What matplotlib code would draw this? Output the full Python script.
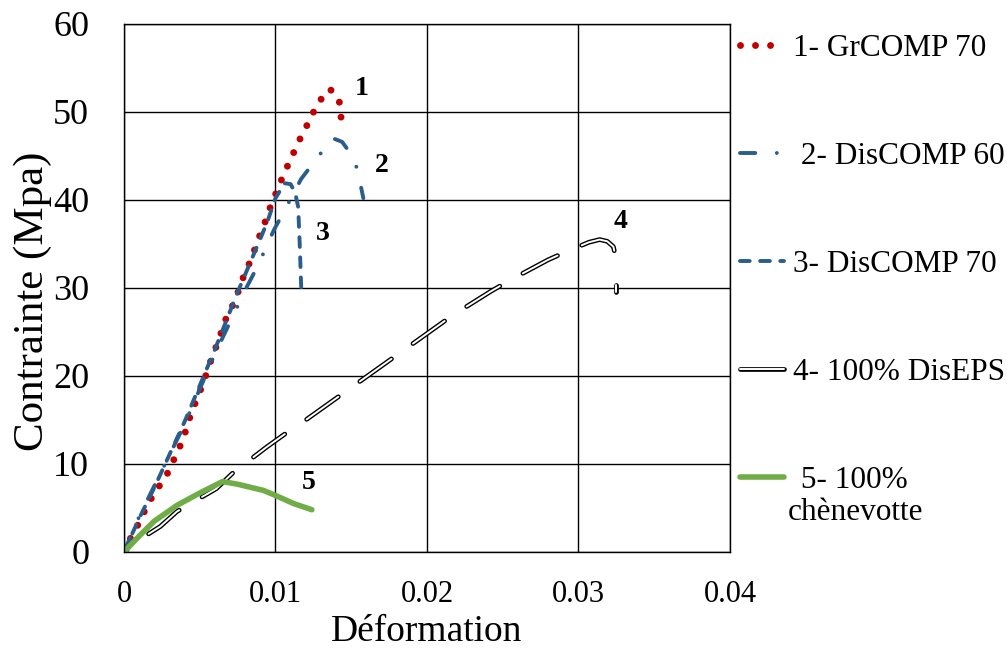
import matplotlib
matplotlib.use("Agg")
import matplotlib.pyplot as plt
from matplotlib.lines import Line2D
from matplotlib.legend_handler import HandlerTuple

plt.rcParams["font.family"] = ["Liberation Serif", "DejaVu Serif"]
plt.rcParams["lines.scale_dashes"] = False

# 1- GrCOMP 70
x1 = [0, 0.0005, 0.00106, 0.00145, 0.00194, 0.00253, 0.00304, 0.00343, 0.00387,
      0.00418, 0.00447, 0.00486, 0.00524, 0.00557, 0.0059, 0.00629, 0.00656, 0.0070,
      0.0074, 0.0077, 0.0081, 0.0085, 0.0088, 0.0092, 0.0095, 0.0099, 0.0103, 0.0107,
      0.0111, 0.01155, 0.0120, 0.01245, 0.01294, 0.0136, 0.0142, 0.0143, 0.01448]
y1 = [0, 1.8, 3.5, 5.0, 6.5, 8.0, 9.4, 11.1, 12.6,
      14.4, 15.9, 17.6, 19.2, 20.9, 22.6, 24.1, 25.9, 27.4,
      28.8, 30.5, 32.1, 33.7, 35.3, 36.9, 38.5, 40.2, 41.9, 43.5,
      45.0, 46.7, 48.2, 49.8, 51.3, 52.6, 51.4, 49.7, 47.9]

# 2- DisCOMP 60
x2 = [0, 0.001, 0.002, 0.004, 0.006, 0.0081, 0.0088, 0.0099, 0.0105, 0.0117,
      0.0125, 0.0133, 0.0138, 0.0144, 0.0152, 0.0155, 0.0158]
y2 = [0, 4.0, 7.5, 14.5, 22.5, 30.1, 32.4, 36.6, 38.5, 42.4,
      44.2, 46.0, 47.0, 46.6, 44.7, 42.7, 40.2]

# 3- DisCOMP 70
x3 = [0, 0.001, 0.002, 0.004, 0.006, 0.0075, 0.0091, 0.0095, 0.0100, 0.0106,
      0.0110, 0.0113, 0.0115, 0.0116, 0.0117]
y3 = [0, 3.8, 7.3, 14.8, 23.0, 29.5, 36.0, 37.7, 40.2, 41.9,
      41.8, 40.8, 39.2, 35.0, 30.0]

# 4- 100% DisEPS
x4 = [0, 0.0013, 0.0024, 0.0035, 0.0061, 0.0072, 0.0094, 0.0107, 0.012, 0.0217,
      0.0242, 0.0255, 0.028, 0.0293, 0.0307, 0.0314, 0.0319, 0.0323, 0.0325]
y4 = [0, 1.7, 2.9, 4.6, 7.2, 9.0, 11.9, 13.5, 15.0, 26.9,
      29.6, 30.9, 33.2, 34.2, 35.2, 35.5, 35.3, 34.7, 33.2]
x4_tail = [0.0325, 0.0325]
y4_tail = [30.3, 29.5]

# 5- 100% chènevotte
x5 = [0, 0.001, 0.002, 0.0035, 0.005, 0.0065, 0.0075, 0.0092, 0.0099, 0.0112, 0.0124]
y5 = [0, 1.8, 3.5, 5.3, 6.7, 8.0, 7.7, 7.0, 6.5, 5.5, 4.8]

curve_labels = ["1", "2", "3", "4", "5"]
curve_label_pos = [(0.0157, 52.7), (0.0170, 43.9), (0.0131, 36.2), (0.0328, 37.6), (0.0122, 7.9)]
legend_labels = ["1- GrCOMP 70", " 2- DisCOMP 60", "3- DisCOMP 70",
                 "4- 100% DisEPS", " 5- 100%"]

red = "#C00000"
blue = "#2B5D8C"
green = "#70AD47"

fig = plt.figure(figsize=(10.07, 6.49), dpi=100)
ax = fig.add_axes([0.1231, 0.1495, 0.6018, 0.8136])

l1, = ax.plot(x1, y1, color=red, lw=5, linestyle=(0, (0.01, 10.8)),
              dash_capstyle="round", solid_capstyle="round")
l2, = ax.plot(x2, y2, color=blue, lw=2.8, linestyle=(0, (11, 15.5, 0.01, 15.5)),
              dash_capstyle="round")
l3, = ax.plot(x3, y3, color=blue, lw=2.8, linestyle=(0, (7, 7.5)),
              dash_capstyle="round")
eps_dash = (25, (28, 19))
ax.plot(x4, y4, color="black", lw=3.4, linestyle=eps_dash, dash_capstyle="round")
ax.plot(x4, y4, color="white", lw=1.4, linestyle=eps_dash, dash_capstyle="round")
ax.plot(x4_tail, y4_tail, color="black", lw=3.4, solid_capstyle="round")
ax.plot(x4_tail, y4_tail, color="white", lw=1.4, solid_capstyle="round")
l5, = ax.plot(x5, y5, color=green, lw=4, solid_capstyle="round")

# legend proxy for the double line
l4a = Line2D([], [], color="black", lw=3.4, solid_capstyle="round")
l4b = Line2D([], [], color="white", lw=1.4, solid_capstyle="round")

for lab, (px, py) in zip(curve_labels, curve_label_pos):
    ax.text(px, py, lab, fontsize=20, fontweight="bold", ha="center", va="center")

ax.set_xlim(0, 0.04)
ax.set_ylim(0, 60)
ax.set_xticks([0, 0.01, 0.02, 0.03, 0.04])
ax.set_xticklabels(["0", "0.01", "0.02", "0.03", "0.04"])
ax.set_yticks(range(0, 61, 10))
ax.tick_params(axis="x", length=0, pad=20, labelsize=22)
ax.tick_params(axis="y", length=0, pad=25, labelsize=26)
ax.grid(True, color="black", lw=1.0)
ax.set_axisbelow(True)
for s in ax.spines.values():
    s.set_color("black")
    s.set_linewidth(1.0)

ax.set_xlabel("Déformation", fontsize=27, labelpad=4)
ax.set_ylabel("Contrainte (Mpa)", fontsize=31)
ax.yaxis.set_label_coords(-0.118, 0.475)

fig.legend([l1, l2, l3, (l4a, l4b), l5], legend_labels,
           handler_map={tuple: HandlerTuple(ndivide=1)},
           loc="upper left", bbox_to_anchor=(740 / 1007, 1 - 34 / 649),
           frameon=False, fontsize=22.5, handlelength=1.4, handletextpad=0.3,
           labelspacing=2.53, borderpad=0, borderaxespad=0)
fig.text(788 / 1007, 1 - 513 / 649, "chènevotte", fontsize=22.5, va="center", ha="left")

fig.savefig("out.png", dpi=100)
